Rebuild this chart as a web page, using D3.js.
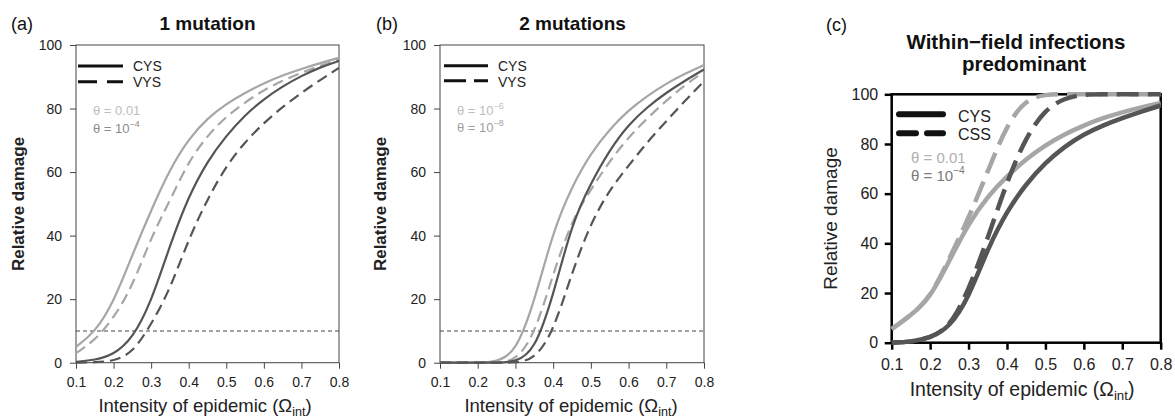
<!DOCTYPE html>
<html><head><meta charset="utf-8">
<script src="https://cdn.jsdelivr.net/npm/d3@7"></script>
<style>
body{margin:0;background:#fff;}
text{font-family:"Liberation Sans",Arial,sans-serif;}
</style></head><body>
<svg id="chart" width="1175" height="419"></svg>
<script>
// ---- data ----
const xTicks = [0.1,0.2,0.3,0.4,0.5,0.6,0.7,0.8];
const yTicks = [0,20,40,60,80,100];
const omega  = [0.10,0.15,0.20,0.25,0.30,0.35,0.40,0.45,0.50,0.55,0.60,0.65,0.70,0.75,0.80];
const threshold = 10;

// (a) 1 mutation : theta = 0.01 (light) / 1e-4 (dark)
const aCysHigh = [5,9.5,19,34,48,61,70.5,77,81.5,85,88,90.5,92.5,94.3,96];
const aVysHigh = [3,7,14,24,39.5,51,63.5,71.5,77.5,82,85.8,88.8,91.3,93.5,95.5];
const aCysLow  = [0.3,0.8,2.5,7.5,19,37,52.5,63.5,71.5,78,83,87,90.3,93,95];
const aVysLow  = [0,0.1,0.5,3,12,23,39,51.5,62,69.5,75.5,80.5,85,89,92.8];

// (b) 2 mutations : theta = 1e-6 (light) / 1e-8 (dark)
const bCysHigh = [0,0,0,0.3,3,19,41.5,55.5,66,73.5,79.5,84,87.9,91,93.7];
const bVysHigh = [0,0,0,0,0.5,8.5,28,45,54.5,63.5,71,77,82.5,87.5,91.5];
const bCysLow  = [0,0,0,0,0.2,3.5,21,44,56.5,67,75,80.5,85,88.8,92.3];
const bVysLow  = [0,0,0,0,0,1,9.5,28.5,44,54.5,62,69.5,76,82.5,88.6];

// (c) within-field infections predominant : theta = 0.01 (light) / 1e-4 (dark)
const cCysHigh = [5.5,11,18,33,48,59,67,74,79.5,84,87.5,90.5,92.8,94.8,96.5];
const cCysLow  = [0,0.3,2,6,18,38,53,64,72.5,79,84,87.5,90.5,93,95.5];
const cCssHigh = [5.5,11,18,34,50,69,88,98,100,100,100,100,100,100,100];
const cCssLow  = [0,0.3,2,6,21,42,65,83,94,98.5,100,100,100,100,100];

const LIGHT = "#a6a6a6", DARK = "#555555";
const svg = d3.select("#chart");

function xLabel(g, cx, cy, size){
  const t = g.append("text").attr("x",cx).attr("y",cy).attr("text-anchor","middle")
    .attr("font-size",size).attr("fill","#222");
  t.append("tspan").text("Intensity of epidemic (Ω");
  t.append("tspan").attr("font-size",size*0.68).attr("dy",size*0.22).text("int");
  t.append("tspan").attr("dy",-size*0.22).text(")");
}
function thetaLabel(g, x, y, size, color, base, exp){
  const t = g.append("text").attr("x",x).attr("y",y).attr("font-size",size).attr("fill",color);
  t.append("tspan").text("θ = " + base);
  if(exp){ t.append("tspan").attr("font-size",size*0.68).attr("dy",-size*0.42).text(exp); }
}

function panel(o){
  const g = svg.append("g");
  const x = d3.scaleLinear().domain([0.1,0.8]).range([o.x0,o.x1]);
  const y = d3.scaleLinear().domain([0,100]).range([o.y0,o.y1]);
  const line = d3.line().x(d=>x(d[0])).y(d=>y(d[1])).curve(d3.curveBasis);

  const xa = g.append("g").attr("transform",`translate(0,${o.y0})`)
    .call(d3.axisBottom(x).tickValues(xTicks).tickFormat(d3.format(".1f"))
      .tickSize(o.tick).tickSizeOuter(0).tickPadding(o.padX));
  const ya = g.append("g").attr("transform",`translate(${o.x0},0)`)
    .call(d3.axisLeft(y).tickValues(yTicks).tickSize(o.tick).tickSizeOuter(0).tickPadding(o.padY));
  [xa,ya].forEach(a=>{
    a.select(".domain").remove();
    a.selectAll(".tick line").attr("stroke",o.axisColor).attr("stroke-width",o.frameW);
    a.selectAll(".tick text").attr("font-size",o.tickFont).attr("fill","#222")
      .attr("font-family",'"Liberation Sans",Arial,sans-serif');
  });

  if(o.threshold){
    g.append("line").attr("x1",x(0.1)).attr("x2",x(0.8)).attr("y1",y(threshold)).attr("y2",y(threshold))
      .attr("stroke","#444").attr("stroke-width",1.1).attr("stroke-dasharray","4,3");
  }
  g.append("rect").attr("x",o.x0).attr("y",o.y1).attr("width",o.x1-o.x0).attr("height",o.y0-o.y1)
    .attr("fill","none").attr("stroke",o.axisColor).attr("stroke-width",o.frameW);

  o.series.forEach(s=>{
    g.append("path").datum(omega.map((w,i)=>[w,s.v[i]])).attr("d",line)
      .attr("fill","none").attr("stroke",s.c).attr("stroke-width",o.lw)
      .attr("stroke-dasharray",s.dash?o.dash:null);
  });

  // legend
  const L = o.legend;
  g.append("line").attr("x1",L.x1).attr("x2",L.x2).attr("y1",L.y1).attr("y2",L.y1)
    .attr("stroke","#111").attr("stroke-width",L.w).attr("stroke-linecap",L.cap);
  g.append("line").attr("x1",L.x1).attr("x2",L.x2).attr("y1",L.y2).attr("y2",L.y2)
    .attr("stroke","#111").attr("stroke-width",L.w).attr("stroke-linecap",L.cap).attr("stroke-dasharray",L.dash);
  g.append("text").attr("x",L.tx).attr("y",L.ty1).attr("font-size",L.fs).attr("fill","#222").text(L.n1);
  g.append("text").attr("x",L.tx).attr("y",L.ty2).attr("font-size",L.fs).attr("fill","#222").text(L.n2);
  return g;
}

// (a)
panel({x0:76,x1:339,y0:362.7,y1:45,tick:6,padX:8,padY:8,tickFont:14,axisColor:"#444",frameW:1,
  lw:2.2,dash:"11,6",threshold:true,
  series:[{v:aCysHigh,c:LIGHT},{v:aVysHigh,c:LIGHT,dash:true},{v:aCysLow,c:DARK},{v:aVysLow,c:DARK,dash:true}],
  legend:{x1:78,x2:123,y1:66,y2:81.7,w:3,cap:"butt",dash:"19,10",tx:133,ty1:71,ty2:87.3,fs:14,n1:"CYS",n2:"VYS"}});
// (b)
panel({x0:440,x1:704,y0:362.7,y1:45,tick:6,padX:8,padY:8,tickFont:14,axisColor:"#444",frameW:1,
  lw:2.2,dash:"11,6",threshold:true,
  series:[{v:bCysHigh,c:LIGHT},{v:bVysHigh,c:LIGHT,dash:true},{v:bCysLow,c:DARK},{v:bVysLow,c:DARK,dash:true}],
  legend:{x1:444,x2:488,y1:65.7,y2:80.7,w:3,cap:"butt",dash:"22,8",tx:498,ty1:71,ty2:86.5,fs:14,n1:"CYS",n2:"VYS"}});
// (c)
panel({x0:891.7,x1:1160.7,y0:342.7,y1:94.3,tick:7,padX:9,padY:6.5,tickFont:16,axisColor:"#000",frameW:2.5,
  lw:4.5,dash:"22,9",threshold:false,
  series:[{v:cCysHigh,c:LIGHT},{v:cCysLow,c:DARK},{v:cCssHigh,c:LIGHT,dash:true},{v:cCssLow,c:DARK,dash:true}],
  legend:{x1:899,x2:943,y1:114.3,y2:133.3,w:6,cap:"round",dash:"17,11",tx:958,ty1:121.5,ty2:140,fs:16,n1:"CYS",n2:"CSS"}});

// titles, labels
const T = svg.append("g");
T.append("text").attr("x",11).attr("y",30).attr("font-size",18).attr("font-family","DejaVu Sans").attr("fill","#111").text("(a)");
T.append("text").attr("x",376).attr("y",30).attr("font-size",18).attr("font-family","DejaVu Sans").attr("fill","#111").text("(b)");
T.append("text").attr("x",826).attr("y",31).attr("font-size",18).attr("font-family","DejaVu Sans").attr("fill","#111").text("(c)");

T.append("text").attr("x",207.5).attr("y",30).attr("text-anchor","middle").attr("font-size",19).attr("font-weight","bold").attr("fill","#111").text("1 mutation");
T.append("text").attr("x",572.5).attr("y",30).attr("text-anchor","middle").attr("font-size",19).attr("font-weight","bold").attr("fill","#111").text("2 mutations");
T.append("text").attr("x",1016).attr("y",48.5).attr("text-anchor","middle").attr("font-size",20.5).attr("font-weight","bold").attr("fill","#111").text("Within\u2212field infections");
T.append("text").attr("x",1024).attr("y",71).attr("text-anchor","middle").attr("font-size",20.5).attr("font-weight","bold").attr("fill","#111").text("predominant");

T.append("text").attr("transform","translate(24,204) rotate(-90)").attr("text-anchor","middle").attr("font-size",17).attr("font-weight","bold").attr("fill","#222").text("Relative damage");
T.append("text").attr("transform","translate(386,204) rotate(-90)").attr("text-anchor","middle").attr("font-size",17).attr("font-weight","bold").attr("fill","#222").text("Relative damage");
T.append("text").attr("transform","translate(837,218.5) rotate(-90)").attr("text-anchor","middle").attr("font-size",19).attr("fill","#222").text("Relative damage");

xLabel(T,205,412,18.5);
xLabel(T,571,412,18.5);
xLabel(T,1022,396,19.5);

thetaLabel(T,93,114.5,13,"#bdbdbd","0.01",null);
thetaLabel(T,93,132.5,13,"#8a8a8a","10","\u22124");
thetaLabel(T,457,114.5,13,"#bdbdbd","10","\u22126");
thetaLabel(T,457,131.5,13,"#a0a0a0","10","\u22128");
thetaLabel(T,911,163,15,"#b0b0b0","0.01",null);
thetaLabel(T,911,180.5,15,"#7a7a7a","10","\u22124");
</script>
</body></html>
